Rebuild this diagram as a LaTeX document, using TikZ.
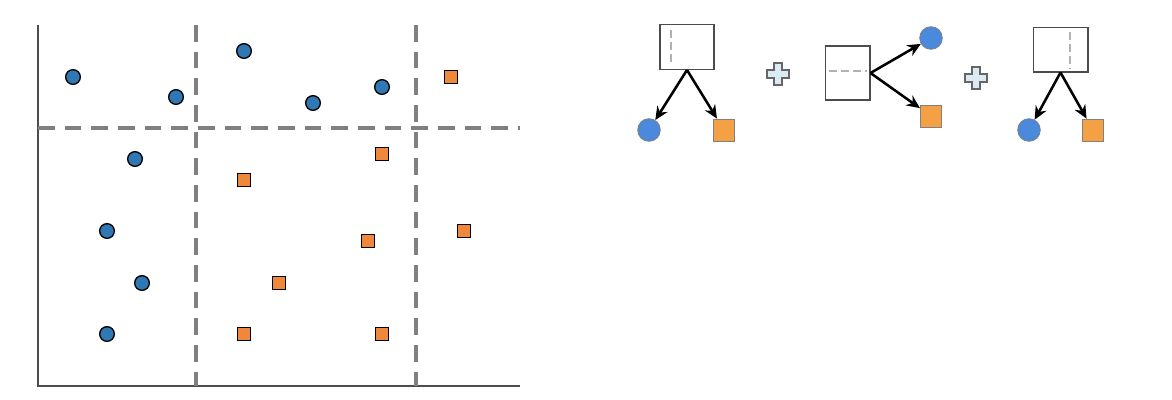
\documentclass[tikz,border=0pt]{standalone}
\usepackage{tikz}
\usetikzlibrary{arrows.meta, positioning}
\definecolor{PointBlue}{HTML}{2F78B4}
\definecolor{PointOrange}{HTML}{F0883C}
\definecolor{LeafBlue}{HTML}{4A89DC}
\definecolor{LeafOrange}{HTML}{F4A044}
\definecolor{PlusFill}{HTML}{DCEAF4}
\definecolor{SplitGray}{HTML}{808080}
\tikzset{
  % Scatter point styles
  bluept/.style={circle, draw=black, fill=PointBlue, line width=1pt, minimum size=11pt, inner sep=0pt},
  orangept/.style={rectangle, draw=black, fill=PointOrange, line width=1pt, minimum size=10pt, inner sep=0pt},
  % Split and axis styles
  splitline/.style={SplitGray, line width=3.5pt, dash pattern=on 12.5pt off 7.5pt},
  axisline/.style={black!70, line width=1.2pt},
  % Tree styles
  stumpbox/.style={rectangle, draw=black!70, fill=white, line width=1pt, inner sep=0pt},
  innersplit/.style={black!30, line width=0.8pt, dash pattern=on 6pt off 3pt},
  leafcircle/.style={circle, draw=black!50, fill=LeafBlue, line width=0.6pt, minimum size=17pt, inner sep=0pt},
  leafsquare/.style={rectangle, draw=black!50, fill=LeafOrange, line width=0.6pt, minimum width=16pt, minimum height=16.5pt, inner sep=0pt},
  treearrow/.style={-{Stealth[length=10pt, width=9pt]}, line width=1.9pt, black},
  plussign/.style={draw=black!60, fill=PlusFill, line width=0.9pt}
}

\begin{document}
\begin{tikzpicture}[x=0.75pt, y=-0.75pt]
  \useasboundingbox (0,0) rectangle (1172,400);

  % Axes
  \coordinate (origin) at (38,386);
  \coordinate (ytop) at (38,25);
  \coordinate (xend) at (520,386);
  \draw[axisline] (ytop) -- (origin) -- (xend);

  % Splits
  \draw[splitline] (38,128) -- (520,128);
  \draw[splitline] (196,25) -- (196,386);
  \draw[splitline] (416,25) -- (416,386);

  % Blue points
  \foreach \px/\py [count=\i] in {73/77, 176/97, 244/51, 313/103, 382/87, 135/159, 107/231, 142/283, 107/334}
    \node[bluept] (b\i) at (\px,\py) {};

  % Orange points
  \foreach \px/\py [count=\i] in {451/77, 382/154, 244/180, 368/241, 464/231, 279/283, 244/334, 382/334}
    \node[orangept] (o\i) at (\px,\py) {};

  % First stump
  \node[stumpbox, minimum width=40.5pt, minimum height=33.5pt] (stumpA) at (687,47) {};
  \draw[innersplit] (671,30) -- (671,66);
  \node[leafcircle] (leafA1) at (649,130) {};
  \node[leafsquare] (leafA2) at (724,130) {};
  \draw[treearrow] (stumpA.south) -- (leafA1);
  \draw[treearrow] (stumpA.south) -- (leafA2);

  % Plus
  \draw[plussign, shift={(778,74)}] (-4,-11) -- (4,-11) -- (4,-4) -- (11,-4) -- (11,4) -- (4,4) -- (4,11) -- (-4,11) -- (-4,4) -- (-11,4) -- (-11,-4) -- (-4,-4) -- cycle;

  % Second stump
  \node[stumpbox, minimum width=33.5pt, minimum height=40.5pt] (stumpB) at (847.5,73) {};
  \draw[innersplit] (829,71) -- (867,71);
  \node[leafcircle] (leafB1) at (931,38) {};
  \node[leafsquare] (leafB2) at (931,116) {};
  \draw[treearrow] (stumpB.east) -- (leafB1);
  \draw[treearrow] (stumpB.east) -- (leafB2);

  % Plus
  \draw[plussign, shift={(976,78)}] (-4,-11) -- (4,-11) -- (4,-4) -- (11,-4) -- (11,4) -- (4,4) -- (4,11) -- (-4,11) -- (-4,4) -- (-11,4) -- (-11,-4) -- (-4,-4) -- cycle;

  % Third stump
  \node[stumpbox, minimum width=41pt, minimum height=33.5pt] (stumpC) at (1060.5,49.5) {};
  \draw[innersplit] (1070,32) -- (1070,69);
  \node[leafcircle] (leafC1) at (1029,130) {};
  \node[leafsquare] (leafC2) at (1093,130) {};
  \draw[treearrow] (stumpC.south) -- (leafC1);
  \draw[treearrow] (stumpC.south) -- (leafC2);
\end{tikzpicture}
\end{document}
